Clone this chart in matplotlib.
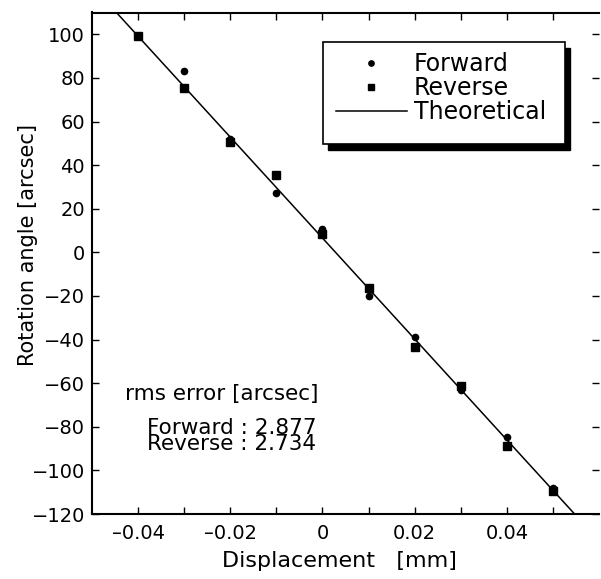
import matplotlib
matplotlib.use("Agg")
import matplotlib.pyplot as plt
from matplotlib.patches import Rectangle
import numpy as np

plt.rcParams['font.family'] = ['DejaVu Sans']

# measured points (displacement in mm, rotation in arcsec)
disp = [-0.04, -0.03, -0.02, -0.01, 0.0, 0.01, 0.02, 0.03, 0.04, 0.05]
forward = [99, 83, 52, 27, 10.5, -20, -39, -63, -84.5, -108]
reverse = [99, 75.5, 50.5, 35.5, 8.5, -16.5, -43.5, -61.5, -89, -109.5]

# theoretical line
theo_x = [-0.046, 0.056]
theo_y = [113, -123]

W, H = 601, 579
fig = plt.figure(figsize=(W / 100, H / 100), dpi=100)
ax = fig.add_axes([92 / W, 1 - 514 / H, 507 / W, 501.5 / H])

ax.plot(disp, forward, 'o', color='black', markersize=4.5, label='Forward')
ax.plot(disp, reverse, 's', color='black', markersize=5.5, label='Reverse')
ax.plot(theo_x, theo_y, '-', color='black', linewidth=1.1, label='Theoretical')

ax.set_xlim(-0.05, 0.06)
ax.set_ylim(-120, 110)
ax.set_xticks([-0.04, -0.02, 0, 0.02, 0.04])
ax.set_xticklabels(['\u20130.04', '\u20130.02', '0', '0.02', '0.04'])
ax.set_xticks(np.arange(-0.04, 0.055, 0.01), minor=True)
ax.set_yticks(np.arange(-120, 101, 20))
ax.set_yticklabels([str(v) if v >= 0 else '\u2212' + str(-v) for v in range(-120, 101, 20)])
ax.tick_params(which='both', direction='in', top=True, right=True, length=5, width=1.0,
               labelsize=14)
ax.tick_params(axis='x', pad=7)
ax.tick_params(axis='y', pad=5)
ax.spines['right'].set_visible(False)
for s in ['left', 'bottom', 'top']:
    ax.spines[s].set_linewidth(1.5)

ax.set_xlabel('Displacement   [mm]', fontsize=16)
ax.xaxis.set_label_coords(0.489, -0.073)
ax.set_ylabel('Rotation angle [arcsec]', fontsize=15)
ax.yaxis.set_label_coords(-0.1065, 0.536)

# rms error note
fig.text(125 / W, 1 - 394 / H, 'rms error [arcsec]', fontsize=15.5, va='center')
fig.text(147 / W, 1 - 436 / H, 'Forward : 2.877\nReverse : 2.734', fontsize=15.5,
         va='center', linespacing=0.78)

# legend box with a solid drop shadow
shadow = Rectangle((328 / W, 1 - 150 / H), 242 / W, 102 / H, transform=fig.transFigure,
                   facecolor='black', edgecolor='black', zorder=4, clip_on=False)
box = Rectangle((323 / W, 1 - 144 / H), 242 / W, 102 / H, transform=fig.transFigure,
                facecolor='white', edgecolor='black', linewidth=1.2, zorder=4.5,
                clip_on=False)
ax.add_patch(shadow)
ax.add_patch(box)

leg = ax.legend(loc='upper left', bbox_to_anchor=(336 / W, 1 - 52 / H),
                bbox_transform=fig.transFigure, fontsize=17, frameon=False,
                handlelength=3.0, handletextpad=0.3, borderpad=0, borderaxespad=0,
                labelspacing=0.0, markerscale=0.85)
leg.set_zorder(5)

fig.savefig('out.png', dpi=100)
